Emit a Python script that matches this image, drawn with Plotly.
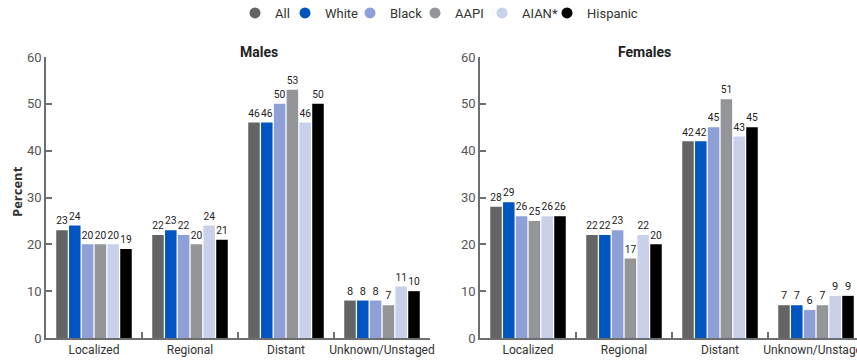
import plotly.graph_objects as go

categories = ["Localized", "Regional", "Distant", "Unknown/Unstaged"]
groups = ["All", "White", "Black", "AAPI", "AIAN*", "Hispanic"]
colors = ["#636466", "#0055c0", "#8fa0d8", "#939598", "#c9d0ea", "#000000"]

males = {
    "All": [23, 22, 46, 8],
    "White": [24, 23, 46, 8],
    "Black": [20, 22, 50, 8],
    "AAPI": [20, 20, 53, 7],
    "AIAN*": [20, 24, 46, 11],
    "Hispanic": [19, 21, 50, 10],
}
females = {
    "All": [28, 22, 42, 7],
    "White": [29, 22, 42, 7],
    "Black": [26, 23, 45, 6],
    "AAPI": [25, 17, 51, 7],
    "AIAN*": [26, 22, 43, 9],
    "Hispanic": [26, 20, 45, 9],
}
y_ticks = [0, 10, 20, 30, 40, 50, 60]

FONT = "Liberation Sans Narrow, Roboto, sans-serif"
W, H = 857, 360

fig = go.Figure()
for data, xa, ya in [(males, "x", "y"), (females, "x2", "y2")]:
    for g, c in zip(groups, colors):
        fig.add_trace(go.Bar(
            x=categories, y=data[g], name=g, marker=dict(color=c, line=dict(width=0)),
            text=data[g], textposition="outside", cliponaxis=False,
            textfont=dict(family=FONT, size=11, color="#222"),
            xaxis=xa, yaxis=ya, showlegend=False, hoverinfo="skip",
        ))

# legend entries as circles, one small legend per entry to control spacing
legend_names = ["legend"] + [f"legend{i}" for i in range(2, len(groups) + 1)]
for g, c, lg in zip(groups, colors, legend_names):
    fig.add_trace(go.Scatter(x=[None], y=[None], mode="markers", name=g,
                             marker=dict(symbol="circle", size=11, color=c),
                             showlegend=True, legend=lg))

left_dom = [46 / W, 430 / W]
right_dom = [480 / W, 1.0]
px_per_cat = (430 - 46) / 4
right_range_end = -0.5 + (W - 480) / px_per_cat

axis_common = dict(
    showline=True, linecolor="#6d6e70", linewidth=1.5, showgrid=False,
    zeroline=False,
)
xcommon = dict(axis_common, type="category", ticks="inside", ticklen=6,
               tickcolor="#6d6e70", tickwidth=1.5, tickson="boundaries", tickangle=0,
               tickfont=dict(family=FONT, size=12, color="#333"), automargin=False)
ycommon = dict(axis_common, range=[0, 60], tickvals=y_ticks, ticks="inside",
               ticklen=6, tickcolor="#6d6e70", tickwidth=1.5,
               tickfont=dict(family=FONT, size=13, color="#555"), automargin=False)

legend_common = dict(orientation="h", xanchor="left", y=1 - 13 / H, yanchor="middle",
                     yref="container", xref="container",
                     font=dict(family=FONT, size=13, color="#333"),
                     itemwidth=30, bgcolor="rgba(0,0,0,0)")
legend_lefts = [235, 285, 350, 415, 482, 547]

layout_legends = {lg: dict(legend_common, x=xl / W) for lg, xl in zip(legend_names, legend_lefts)}

fig.update_layout(
    width=W, height=H,
    margin=dict(l=0, r=0, t=57, b=22, autoexpand=False),
    paper_bgcolor="white", plot_bgcolor="white",
    barmode="group", bargap=0.2, bargroupgap=0.1,
    xaxis=dict(xcommon, domain=left_dom, range=[-0.5, 3.5], anchor="y"),
    yaxis=dict(ycommon, anchor="x"),
    xaxis2=dict(xcommon, domain=right_dom, range=[-0.5, right_range_end], anchor="y2"),
    yaxis2=dict(ycommon, anchor="x2"),
    annotations=[
        dict(text="<b>Males</b>", x=238 / W, y=1, xref="paper", yref="paper",
             yanchor="middle", yshift=5, showarrow=False,
             font=dict(family=FONT, size=14, color="#222")),
        dict(text="<b>Females</b>", x=673 / W, y=1, xref="paper", yref="paper",
             yanchor="middle", yshift=5, showarrow=False,
             font=dict(family=FONT, size=14, color="#222")),
        dict(text="<b>Percent</b>", x=17 / W, y=(338 - 192) / 281, xref="paper", yref="paper",
             textangle=-90, showarrow=False, xanchor="center", yanchor="middle",
             font=dict(family="Open Sans, sans-serif", size=13, color="#333")),
    ],
    **layout_legends,
)

fig.write_html("out.html", config={"displayModeBar": False},
               post_script="document.body.style.margin='0';document.body.style.overflow='hidden';")
